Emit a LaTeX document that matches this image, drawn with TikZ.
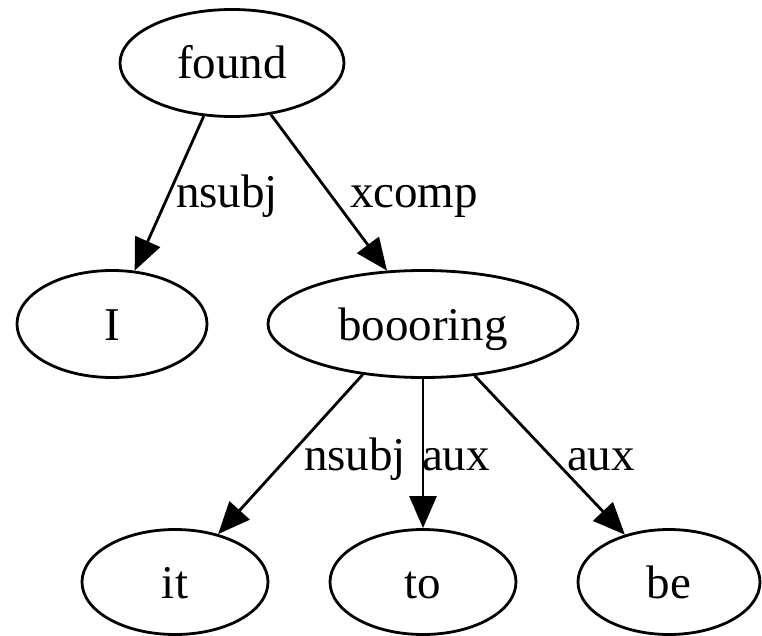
\documentclass[tikz,border=0pt]{standalone}
\usepackage{fontspec}
\setmainfont{Liberation Serif}
\usetikzlibrary{shapes.geometric,arrows.meta}
\begin{document}
\begin{tikzpicture}[x=1pt,y=-1pt,
 word/.style={ellipse,draw,line width=2.8pt,inner sep=0pt,minimum height=107pt,font=\fontsize{47}{56}\selectfont,text height=32pt,text depth=0pt},
 rel/.style={font=\fontsize{47}{56}\selectfont,anchor=base,inner sep=0pt},
 depedge/.style={line width=2.8pt,-{Triangle[length=32pt,width=27pt]}}]
\useasboundingbox (0,0) rectangle (762,636);
\node[word,minimum width=224pt] (found) at (232,63) {found};
\node[word,minimum width=190pt] (I) at (112,324) {I};
\node[word,minimum width=310pt] (boooring) at (423,324) {boooring};
\node[word,minimum width=186pt,minimum height=105pt] (it) at (175,582) {it};
\node[word,minimum width=186pt,minimum height=105pt] (to) at (423,582) {to};
\node[word,minimum width=182pt,minimum height=105pt] (be) at (669,582) {be};
\draw[depedge] (found.242.6) -- (I.67.7);
\draw[depedge] (found.307.6) -- (boooring.124.7);
\draw[depedge] (boooring.220.3) -- (it.48.7);
\draw[depedge] (boooring.270) -- (to.90);
\draw[depedge] (boooring.315) -- (be.133);
\node[rel] (l1) at (227,208) {nsubj};
\node[rel] (l2) at (414,208) {xcomp};
\node[rel] (l3) at (355,470) {nsubj};
\node[rel] (l4) at (456,470) {aux};
\node[rel] (l5) at (601,470) {aux};
\end{tikzpicture}
\end{document}
